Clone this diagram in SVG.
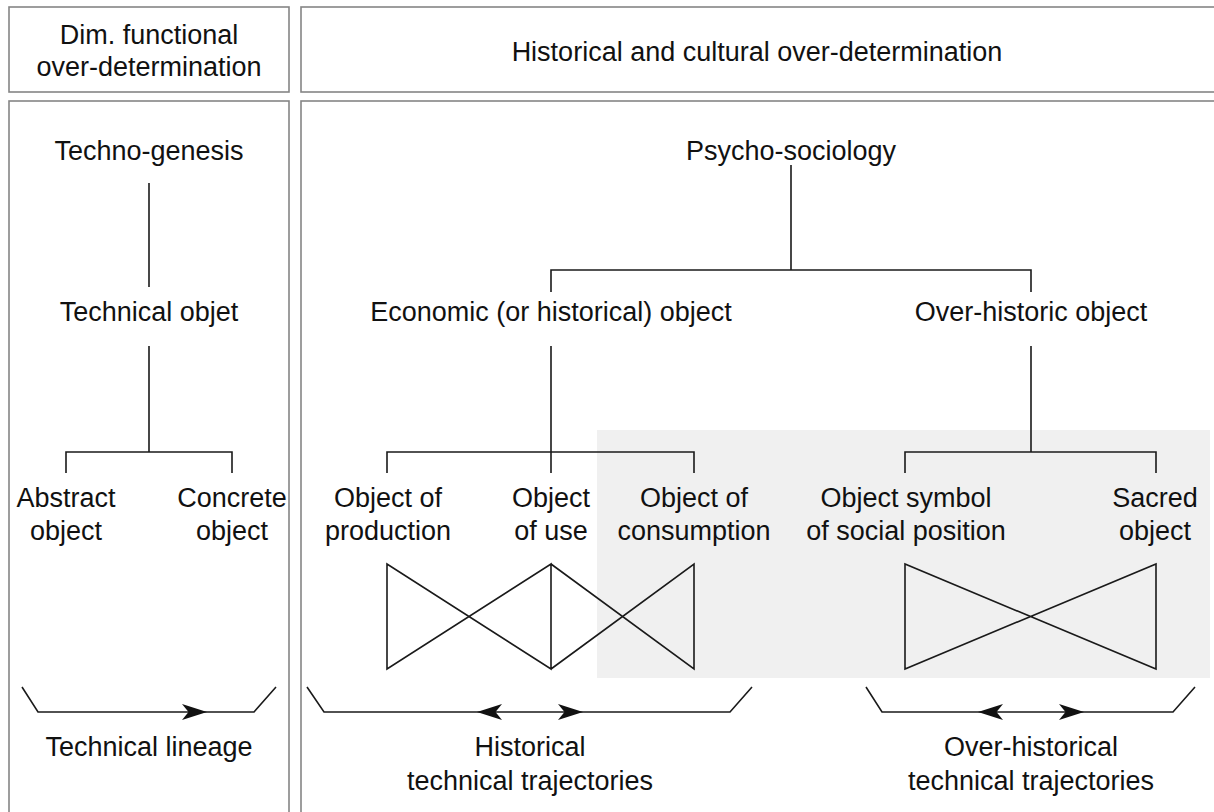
<svg xmlns="http://www.w3.org/2000/svg" xmlns:xlink="http://www.w3.org/1999/xlink" width="1214" height="812" viewBox="0 0 1214 812">
<style>
.box{fill:#ffffff;stroke:#858585;stroke-width:1.6}
.t{font-family:"Liberation Sans",Arial,sans-serif;font-size:27px;fill:#111111;text-anchor:middle}
.ln{fill:none;stroke:#1a1a1a;stroke-width:1.6;stroke-linejoin:miter}
.ah{fill:#111111;stroke:none}
</style>
<defs>
<path id="ah" d="M0,0 L-25,-8 L-18.5,0 L-25,8 Z"/>
</defs>
<rect width="1214" height="812" fill="#ffffff"/>
<g id="frames">
<rect class="box" x="9" y="7" width="280" height="85"/>
<rect class="box" x="301" y="7" width="930" height="85"/>
<rect class="box" x="9" y="101" width="280" height="730"/>
<rect class="box" x="301" y="101" width="930" height="730"/>
</g>
<rect id="highlight" x="597" y="430" width="613" height="248" fill="#f0f0f0"/>
<g id="connectors">
<path class="ln" d="M149,183 V287"/>
<path class="ln" d="M149,346 V452 M66,473 V452 H232 V473"/>
<path class="ln" d="M791,165 V270 M551,292 V270 H1031 V292"/>
<path class="ln" d="M551,346 V473 M387,473 V452 H694 V473"/>
<path class="ln" d="M1031,346 V452 M905,473 V452 H1156 V473"/>
<path class="ln" d="M387,564 V669 L551,564 V669 L387,564 Z M551,564 L694,669 V564 L551,669"/>
<path class="ln" d="M905,564 V669 L1156,564 V669 Z"/>
<path class="ln" d="M22,687 L38,712 H254 L276,687"/>
<path class="ln" d="M307,687 L324,712 H730 L752,687"/>
<path class="ln" d="M866,687 L882,712 H1173 L1195,687"/>
<use class="ah" xlink:href="#ah" transform="translate(207,712)"/>
<use class="ah" xlink:href="#ah" transform="translate(477,712) scale(-1,1)"/>
<use class="ah" xlink:href="#ah" transform="translate(583,712)"/>
<use class="ah" xlink:href="#ah" transform="translate(978,712) scale(-1,1)"/>
<use class="ah" xlink:href="#ah" transform="translate(1084,712)"/>
</g>
<g id="hdr-functional"><text class="t" x="149" y="44">Dim. functional</text><text class="t" x="149" y="76">over-determination</text></g>
<g id="hdr-historical"><text class="t" x="757" y="61">Historical and cultural over-determination</text></g>
<g id="techno-genesis"><text class="t" x="149" y="160">Techno-genesis</text></g>
<g id="technical-objet"><text class="t" x="149" y="321">Technical objet</text></g>
<g id="abstract-object"><text class="t" x="66" y="507">Abstract</text><text class="t" x="66" y="540">object</text></g>
<g id="concrete-object"><text class="t" x="232" y="507">Concrete</text><text class="t" x="232" y="540">object</text></g>
<g id="psycho-sociology"><text class="t" x="791" y="160">Psycho-sociology</text></g>
<g id="economic-object"><text class="t" x="551" y="321">Economic (or historical) object</text></g>
<g id="over-historic-object"><text class="t" x="1031" y="321">Over-historic object</text></g>
<g id="object-production"><text class="t" x="388" y="507">Object of</text><text class="t" x="388" y="540">production</text></g>
<g id="object-use"><text class="t" x="551" y="507">Object</text><text class="t" x="551" y="540">of use</text></g>
<g id="object-consumption"><text class="t" x="694" y="507">Object of</text><text class="t" x="694" y="540">consumption</text></g>
<g id="object-symbol"><text class="t" x="906" y="507">Object symbol</text><text class="t" x="906" y="540">of social position</text></g>
<g id="sacred-object"><text class="t" x="1155" y="507">Sacred</text><text class="t" x="1155" y="540">object</text></g>
<g id="technical-lineage"><text class="t" x="149" y="756">Technical lineage</text></g>
<g id="historical-trajectories"><text class="t" x="530" y="756">Historical</text><text class="t" x="530" y="790">technical trajectories</text></g>
<g id="over-historical-trajectories"><text class="t" x="1031" y="756">Over-historical</text><text class="t" x="1031" y="790">technical trajectories</text></g>
</svg>
